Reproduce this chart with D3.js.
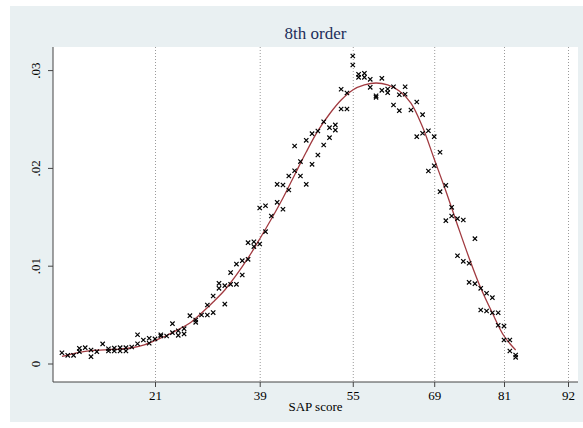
<!DOCTYPE html>
<html>
<head>
<meta charset="utf-8">
<script src="https://cdn.jsdelivr.net/npm/d3@7"></script>
<style>
  body { margin: 0; background: #fff; }
  svg { display: block; }
</style>
</head>
<body>
<div id="chart"></div>
<script>
const width = 583;
const height = 428;
// plot region, in page pixels
const plot = { left: 53, right: 578, top: 47, bottom: 382 };

// observed share of patients at each SAP score (two series overlaid where two marks share a column)
const sapScore = [5, 6, 7, 8, 8, 9, 10, 10, 11, 12, 13, 13, 14, 14, 15, 15, 16, 16, 17, 18, 18, 19,
  20, 20, 21, 22, 22, 23, 24, 24, 25, 25, 26, 26, 27, 28, 28, 29, 30, 30, 31, 31, 32, 32, 33, 33,
  34, 34, 35, 35, 36, 36, 37, 37, 38, 38, 39, 39, 40, 40, 41, 42, 42, 43, 43, 44, 44, 45, 45, 46, 46,
  47, 47, 48, 48, 49, 49, 50, 50, 51, 51, 52, 52, 53, 53, 54, 54, 55, 55, 56, 56, 57, 57, 58, 58,
  59, 59, 60, 60, 61, 61, 62, 62, 63, 63, 64, 64, 65, 66, 66, 67, 67, 68, 68, 69, 69, 70, 70,
  71, 71, 72, 72, 73, 73, 74, 74, 75, 75, 76, 76, 77, 77, 78, 78, 79, 79, 80, 80, 81, 81, 82, 82, 83, 83];
const sapShare = [.00110, .00084, .00084, .00155, .00121, .00162, .00138, .00070, .00121, .00200,
  .00151, .00128, .00158, .00128, .00162, .00128, .00162, .00128, .00169, .00294, .00202, .00240,
  .00258, .00207, .00251, .00294, .00281, .00281, .00407, .00315, .00335, .00288, .00356, .00302,
  .00489, .00445, .00421, .00496, .00496, .00598, .00521, .00690, .00820, .00769, .00796, .00608,
  .00930, .00810, .01017, .00810, .01051, .00905, .01235, .01065, .01245, .01196, .01590, .01222,
  .01613, .01348, .01508, .01832, .01648, .01825, .01577, .01917, .01774, .01971, .02224, .02065, .01917,
  .01832, .02282, .02037, .02350, .02132, .02377, .02472, .02234, .02411, .02309, .02439, .02387,
  .02804, .02602, .02766, .02602, .03144, .03052, .02957, .02926, .02967, .02926, .02906, .02824,
  .02738, .02722, .02916, .02793, .02807, .02769, .02830, .02643, .02748, .02585, .02830, .02753,
  .02592, .02674, .02319, .02544, .02354, .02380, .01968, .02319, .02022, .02160, .01757,
  .01822, .01460, .01597, .01508, .01481, .01102, .01467, .01045, .01025, .00830, .01276, .00816,
  .00769, .00547, .00718, .00537, .00673, .00519, .00519, .00391, .00383, .00240, .00240, .00128,
  .00087, .00063];

// 8th order polynomial fit
const fitScore = [5, 7, 9, 11, 13, 15, 17, 19, 21, 23, 25, 27, 29, 31, 33, 35, 37, 39, 41, 43, 45,
  47, 49, 51, 53, 55, 57, 59, 61, 63, 65, 67, 69, 71, 73, 75, 77, 79, 81, 83];
const fitShare = [.00072, .00102, .00123, .00136, .00142, .00148, .00161, .00189, .00235, .00286,
  .00348, .00414, .00516, .00629, .00752, .00905, .01079, .01273, .01477, .01692, .01928,
  .02163, .02378, .02551, .02694, .02797, .02848, .02868, .02848, .02786, .02663, .02418,
  .02091, .01764, .01416, .01079, .00772, .00516, .00281, .00138];

const xTicks = [21, 39, 55, 69, 81, 92];
const yTicks = [0, .01, .02, .03];
const yTickLabels = ["0", ".01", ".02", ".03"];

const titleText = "8th order";
const xTitle = "SAP score";

// Scales (map straight to page pixels)
let xScale = d3.scaleLinear()
  .domain([21, 92])
  .range([155, 568]);
let yScale = d3.scaleLinear()
  .domain([0, .03])
  .range([363.5, 70.1]);

let svg = d3.select("#chart")
  .append("svg")
  .attr("width", width)
  .attr("height", height)
  .style("font-family", "'Liberation Serif', 'Times New Roman', serif");

// graph region background
svg.append("rect")
  .attr("x", 10)
  .attr("y", 6)
  .attr("width", width - 10)
  .attr("height", height - 12)
  .attr("fill", "#e9f0f2");

svg.append("rect")
  .attr("x", plot.left)
  .attr("y", plot.top)
  .attr("width", plot.right - plot.left)
  .attr("height", plot.bottom - plot.top)
  .attr("fill", "#fff");

// dotted vertical grid at the x ticks
svg.selectAll("line.grid")
  .data(xTicks)
  .enter()
  .append("line")
  .attr("class", "grid")
  .attr("x1", d => xScale(d) + 0.5)
  .attr("x2", d => xScale(d) + 0.5)
  .attr("y1", plot.top)
  .attr("y2", plot.bottom)
  .attr("stroke", "#9a9a9a")
  .attr("stroke-width", 1)
  .attr("stroke-dasharray", "1,2");

// axes
let xAxis = d3.axisBottom(xScale)
  .tickValues(xTicks)
  .tickSize(5)
  .tickPadding(4)
  .tickFormat(d3.format("d"));
let gx = svg.append("g")
  .attr("transform", "translate(0," + plot.bottom + ")")
  .call(xAxis);
gx.select(".domain").remove();
gx.append("line")
  .attr("x1", plot.left)
  .attr("x2", plot.right)
  .attr("stroke", "#444");
gx.selectAll(".tick line").attr("stroke", "#444");
gx.selectAll(".tick text")
  .attr("fill", "#000")
  .style("font-size", "13px")
  .style("font-family", "'Liberation Serif', serif");

let yAxis = d3.axisLeft(yScale)
  .tickValues(yTicks)
  .tickSize(5)
  .tickFormat((d, i) => yTickLabels[i]);
let gy = svg.append("g")
  .attr("transform", "translate(" + plot.left + ",0)")
  .call(yAxis);
gy.select(".domain").remove();
gy.append("line")
  .attr("y1", plot.top)
  .attr("y2", plot.bottom)
  .attr("stroke", "#444");
gy.selectAll(".tick line").attr("stroke", "#444");
gy.selectAll(".tick text")
  .attr("fill", "#000")
  .attr("x", null)
  .attr("dy", null)
  .attr("text-anchor", "middle")
  .attr("transform", "translate(-13,0) rotate(-90)")
  .style("font-size", "13px")
  .style("font-family", "'Liberation Serif', serif");

// fitted curve
let line = d3.line()
  .x((d, i) => xScale(fitScore[i]))
  .y(d => yScale(d))
  .curve(d3.curveCatmullRom);
svg.append("path")
  .datum(fitShare)
  .attr("d", line)
  .attr("fill", "none")
  .attr("stroke", "#a13a40")
  .attr("stroke-width", 1.3);

// observed points as small x marks
let marker = d3.symbol().type(d3.symbolTimes).size(14);
svg.selectAll("path.pt")
  .data(sapShare)
  .enter()
  .append("path")
  .attr("class", "pt")
  .attr("d", marker)
  .attr("transform", (d, i) => "translate(" + xScale(sapScore[i]) + "," + yScale(d) + ")")
  .attr("fill", "none")
  .attr("stroke", "#000")
  .attr("stroke-width", 1.2);

// titles
svg.append("text")
  .attr("x", (plot.left + plot.right) / 2)
  .attr("y", 39)
  .attr("text-anchor", "middle")
  .attr("fill", "#1c2d5a")
  .style("font-size", "17px")
  .text(titleText);

svg.append("text")
  .attr("x", (plot.left + plot.right) / 2)
  .attr("y", 411)
  .attr("text-anchor", "middle")
  .attr("fill", "#000")
  .style("font-size", "13px")
  .text(xTitle);
</script>
</body>
</html>
